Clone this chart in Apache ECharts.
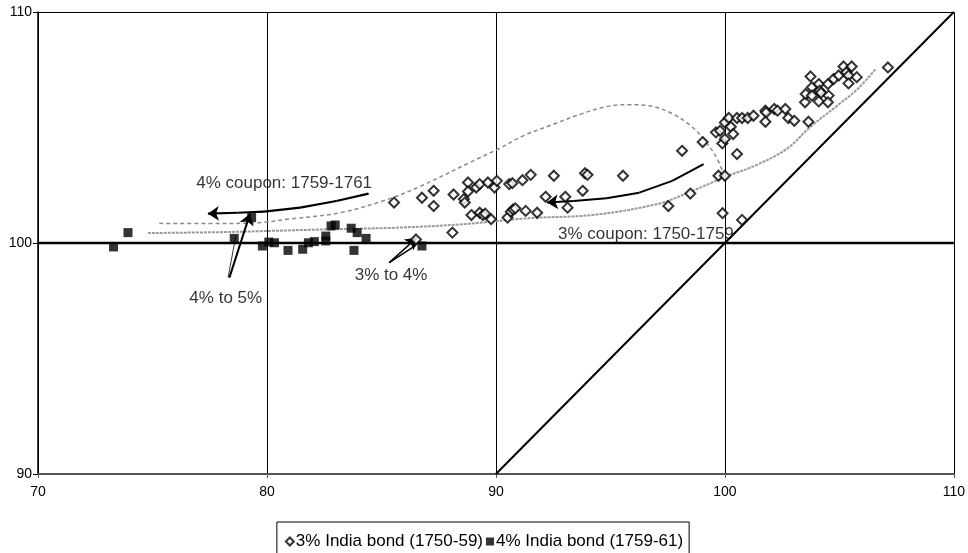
<!DOCTYPE html>
<html>
<head>
<meta charset="utf-8">
<script src="https://cdn.jsdelivr.net/npm/echarts@6/dist/echarts.min.js"></script>
<style>
html,body{margin:0;padding:0;background:#fff;overflow:hidden;}
#chart{width:968px;height:553px;}
</style>
</head>
<body>
<div id="chart"></div>
<script>
// ---- data ----
const xTicks = [70, 80, 90, 100, 110];
const yTicks = [90, 100, 110];

const bond3 = [
  [85.55,101.75],[86.77,101.96],[87.28,102.26],[87.28,101.6],[88.15,102.1],[88.1,100.45],[86.51,100.15],
  [88.6,101.9],[88.64,101.75],[88.78,102.62],[88.78,102.23],[89.14,102.4],[89.29,102.55],[89.65,102.62],
  [89.94,102.4],[90.04,102.69],[88.93,101.21],[89.29,101.31],[89.43,101.21],[89.53,101.27],[89.79,101.03],
  [90.51,101.1],[90.58,102.55],[90.72,102.59],[91.16,102.72],[91.52,102.95],[91.3,101.39],[91.8,101.31],
  [92.17,102.0],[92.53,102.91],[93.03,102.0],[93.13,101.53],[93.79,102.26],[93.89,103.02],[94.0,102.95],
  [95.55,102.91],[97.53,101.6],[98.13,103.99],[98.49,102.14],[99.03,104.37],[99.89,104.31],[99.72,102.91],
  [100.0,102.91],[99.9,101.29],[100.75,101.0],[100.0,104.5],[99.61,104.79],[99.79,104.86],[100.0,105.22],
  [100.17,105.41],[100.26,105.03],[100.36,104.72],[100.53,103.85],[100.53,105.41],[100.75,105.41],
  [101.0,105.41],[101.25,105.51],[101.77,105.73],[101.8,105.65],[101.77,105.25],[102.16,105.8],
  [102.3,105.73],[102.64,105.8],[102.77,105.41],[103.03,105.29],[103.65,105.25],[103.5,106.09],
  [103.53,106.45],[103.74,107.21],[103.8,106.74],[103.8,106.38],[104.1,106.88],[104.1,106.13],
  [104.14,106.59],[104.2,106.5],[104.5,106.88],[104.53,106.38],[104.5,106.09],[104.75,107.1],
  [104.97,107.25],[105.18,107.64],[105.3,107.39],[105.54,107.64],[105.4,107.25],[105.4,106.91],
  [105.76,107.18],[107.12,107.6],[90.65,101.35],[90.75,101.45],[90.85,101.5]
];

const bond4 = [
  [73.3,99.83],[73.93,100.45],[78.57,100.2],[79.33,101.1],[79.8,99.87],[80.08,100.04],[80.33,100.01],
  [80.92,99.68],[81.56,99.73],[81.81,100.01],[82.07,100.06],[82.57,100.09],[82.57,100.3],[82.8,100.74],
  [82.98,100.78],[83.68,100.64],[83.94,100.45],[83.8,99.68],[84.33,100.2],[86.77,99.87]
];

const upperCurve = [
  [75.3,100.85],[77.4,100.84],[79.6,100.88],[81.0,101.04],[83.2,101.31],[85.3,101.9],[86.8,102.5],
  [89.1,103.6],[90.1,104.07],[91.2,104.64],[92.4,105.1],[93.7,105.58],[94.8,105.9],[95.8,105.99],
  [96.7,105.94],[97.7,105.6],[98.6,105.0],[99.1,104.45],[99.6,103.77],[99.9,103.1]
];

const lowerCurve = [
  [74.8,100.43],[78.0,100.47],[80.0,100.52],[83.0,100.6],[85.6,100.66],[88.5,100.81],[91.4,101.07],
  [94.3,101.22],[97.1,101.7],[98.4,102.18],[99.4,102.6],[100.1,102.9],[101.3,103.34],[102.7,104.07],
  [103.7,105.0],[104.9,105.94],[105.8,106.67],[106.6,107.55]
];

const diagonal = [[90,90],[110,110]];
const parLine = [[70,100],[110,100]];

// annotation arrows (data coordinates)
const arrowCoupon4 = [[84.44,102.14],[83.03,101.82],[81.45,101.53],[79.87,101.36],[78.72,101.31],[77.42,101.27]];
const arrowCoupon3 = [[99.07,103.41],[97.7,102.69],[96.26,102.18],[94.83,101.94],[93.39,101.82],[92.23,101.75]];
const arrow4to5 = [[78.36,98.5],[79.26,101.27]];
const arrow4to5b = [[78.3,98.5],[78.64,100.3]];
const arrow3to4 = [[85.34,99.15],[86.55,100.23]];
const arrow3to4b = [[85.34,99.15],[86.5,99.9]];

const annotations = [
  {name:'4% coupon: 1759-1761', value:[80.75,102.57]},
  {name:'4% to 5%', value:[78.2,97.61]},
  {name:'3% to 4%', value:[85.42,98.61]},
  {name:'3% coupon: 1750-1759', value:[96.55,100.39]}
];

const chart = echarts.init(document.getElementById('chart'));

function toSegments(pts) {
  const segs = [];
  for (let i = 0; i < pts.length - 1; i++) segs.push({coords:[pts[i], pts[i+1]]});
  return segs;
}
function arrowSeries(pts, w, withHead) {
  const segs = toSegments(pts);
  const out = [];
  const body = withHead ? segs.slice(0, -1) : segs;
  if (body.length) out.push({
    type:'lines', coordinateSystem:'cartesian2d', silent:true, z:5,
    symbol:['none','none'], lineStyle:{color:'#000', width:w, opacity:1, curveness:0},
    data: body
  });
  if (withHead) out.push({
    type:'lines', coordinateSystem:'cartesian2d', silent:true, z:5,
    symbol:['none','arrow'], symbolSize:[8,11],
    lineStyle:{color:'#000', width:w, opacity:1, curveness:0},
    itemStyle:{color:'#000'},
    data: segs.slice(-1)
  });
  return out;
}

const FONT = 'Liberation Sans, Arial, sans-serif';

chart.setOption({
  animation:false,
  backgroundColor:'#fff',
  grid:{left:38, right:3, top:12, bottom:79, containLabel:false},
  legend:{
    data:[{name:'3% India bond (1750-59)', icon:'diamond'},{name:'4% India bond (1759-61)', icon:'rect'}],
    top:522, left:'center', orient:'horizontal',
    borderColor:'#000', borderWidth:1, padding:[11,6,14,8], itemGap:3,
    itemWidth:8, itemHeight:8,
    textStyle:{fontFamily:FONT, fontSize:17, color:'#000', padding:[0,0,0,-3]}
  },
  xAxis:{
    type:'value', min:70, max:110, interval:10,
    axisLine:{show:true, onZero:false, lineStyle:{color:'#555', width:2}},
    axisTick:{show:true, length:4, lineStyle:{color:'#555'}},
    axisLabel:{margin:11, fontFamily:FONT, fontSize:14, color:'#000',
      formatter:v => xTicks.includes(v) ? String(v) : ''},
    splitLine:{show:true, lineStyle:{color:'#000', width:1}}
  },
  yAxis:{
    type:'value', min:90, max:110, interval:10,
    axisLine:{show:true, onZero:false, lineStyle:{color:'#000', width:1.5}},
    axisTick:{show:true, length:5, lineStyle:{color:'#000'}},
    axisLabel:{margin:6, fontFamily:FONT, fontSize:14, color:'#000',
      formatter:v => yTicks.includes(v) ? String(v) : ''},
    splitLine:{show:true, lineStyle:{color:'#000', width:1}}
  },
  series:[
    {type:'line', name:'par', data:parLine, symbol:'none', silent:true, z:3,
     lineStyle:{color:'#000', width:2.5}},
    {type:'line', name:'diag', data:diagonal, symbol:'none', silent:true, z:3,
     lineStyle:{color:'#000', width:2}},
    {type:'line', name:'upper', data:upperCurve, symbol:'none', smooth:0.35, silent:true, z:2,
     lineStyle:{color:'#8a8a8a', width:1.5, type:[4,3]}},
    {type:'line', name:'lower', data:lowerCurve, symbol:'none', smooth:0.35, silent:true, z:2,
     lineStyle:{color:'#9a9a9a', width:2, type:[3,1]}},
    ...arrowSeries(arrowCoupon4, 2.2, true),
    ...arrowSeries(arrowCoupon3, 2, true),
    ...arrowSeries(arrow4to5, 2, true),
    ...arrowSeries(arrow4to5b, 0.8, false),
    ...arrowSeries(arrow3to4, 1.5, true),
    ...arrowSeries(arrow3to4b, 1.5, false),
    {type:'scatter', name:'3% India bond (1750-59)', data:bond3, symbol:'diamond', symbolSize:10, z:6,
     itemStyle:{color:'#fff', borderColor:'#000', borderWidth:2}},
    {type:'scatter', name:'4% India bond (1759-61)', data:bond4, symbol:'rect', symbolSize:9, z:6,
     itemStyle:{color:'#000', borderColor:'#000', borderWidth:0}},
    {type:'scatter', name:'notes', data:annotations, symbolSize:0, silent:true, z:7,
     label:{show:true, position:'inside', formatter:'{b}', color:'#000',
       fontFamily:FONT, fontSize:17}}
  ]
});
</script>
</body>
</html>
